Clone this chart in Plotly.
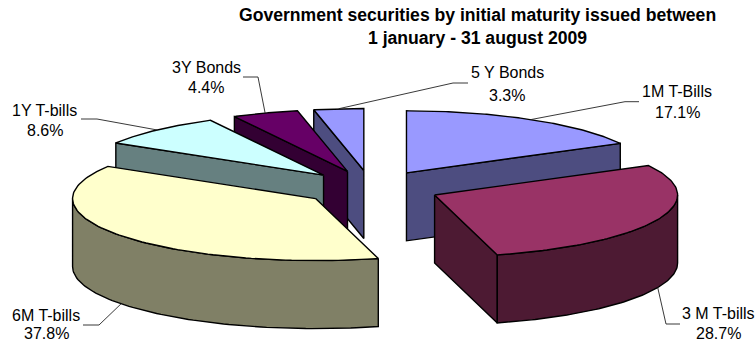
import numpy as np
import plotly.graph_objects as go

# Share of issuance by initial maturity, percent
categories = ["1M T-Bills", "3 M T-bills", "6M T-bills", "1Y T-bills", "3Y Bonds", "5 Y Bonds"]
values = [17.1, 28.7, 37.8, 8.6, 4.4, 3.3]
value_labels = ["17.1%", "28.7%", "37.8%", "8.6%", "4.4%", "3.3%"]

top_colors = ["#9999FF", "#993366", "#FFFFCC", "#CCFFFF", "#660066", "#9999FF"]
side_colors = ["#4D4D80", "#4D1A33", "#808066", "#668080", "#330033", "#4D4D80"]

# Projection of the exploded pie on the plot plane
CX, CY, RX, RY = 371.0, 188.0, 243.0, 62.0
EXPLODE, DEPTH = 0.285, 68.0
# Back-to-front paint order of the slices
PAINT_ORDER = [0, 5, 4, 3, 2, 1]

# Label centres and the elbow/end of each leader line
label_pos = [(677, 91, 112), (718, 313, 333), (46, 315, 333.5), (44.5, 110, 130), (206, 67, 87), (507, 72, 95)]
leader_elbow = [(625, 101.7, 639), (666, 324, 680), (99, 325, 83), (97, 119, 81), (258, 77, 243), (453, 83, 468)]

fracs = np.array(values) / sum(values)
ends = np.cumsum(fracs) * 2 * np.pi
starts = ends - fracs * 2 * np.pi


def rim(theta, ax, ay):
    return ax + RX * np.sin(theta), ay - RY * np.cos(theta)


def poly(fig, xs, ys, color):
    fig.add_trace(go.Scatter(
        x=list(xs) + [xs[0]], y=list(ys) + [ys[0]], mode="lines", fill="toself",
        fillcolor=color, line=dict(color="black", width=1.4), hoverinfo="skip",
    ))


fig = go.Figure()

for i in PAINT_ORDER:
    a0, a1 = starts[i], ends[i]
    mid = (a0 + a1) / 2
    ax = CX + EXPLODE * RX * np.sin(mid)
    ay = CY - EXPLODE * RY * np.cos(mid)

    # Radial cut faces that turn toward the viewer
    for ang, visible in ((a0, np.sin(a0) < -1e-6), (a1, np.sin(a1) > 1e-6)):
        if visible:
            ex, ey = rim(ang, ax, ay)
            poly(fig, [ax, ex, ex, ax], [ay, ey, ey + DEPTH, ay + DEPTH], side_colors[i])

    # Outer wall on the near half of the ellipse
    w0, w1 = max(a0, np.pi / 2), min(a1, 3 * np.pi / 2)
    if w1 > w0:
        t = np.linspace(w0, w1, 80)
        rx, ry = rim(t, ax, ay)
        poly(fig, np.r_[rx, rx[::-1]], np.r_[ry, ry[::-1] + DEPTH], side_colors[i])

    # Top surface
    t = np.linspace(a0, a1, 100)
    rx, ry = rim(t, ax, ay)
    poly(fig, np.r_[ax, rx], np.r_[ay, ry], top_colors[i])

    # Leader line from the rim to the label
    lx, ly = rim(mid, ax, ay)
    if np.cos(mid) < 0:
        ly += DEPTH
    ex, ey, tx = leader_elbow[i]
    fig.add_trace(go.Scatter(
        x=[lx, ex, tx], y=[ly, ey, ey], mode="lines",
        line=dict(color="#222222", width=0.9), hoverinfo="skip",
    ))

annotations = []


def text(x, y, s, bold=False):
    annotations.append(dict(
        x=x, y=y, xref="x", yref="y", text=f"<b>{s}</b>" if bold else s, showarrow=False,
        xanchor="center", yanchor="middle",
        font=dict(family="Liberation Sans", size=17.6 if bold else 16, color="black"),
    ))


for name, pct, (x, y1, y2) in zip(categories, value_labels, label_pos):
    text(x, y1, name)
    text(x, y2, pct)

text(477, 15, "Government securities by initial maturity issued between", bold=True)
text(477, 38, "1 january - 31 august 2009", bold=True)

fig.update_layout(
    width=756, height=343, margin=dict(l=0, r=0, t=0, b=0), showlegend=False,
    paper_bgcolor="white", plot_bgcolor="white", annotations=annotations,
    xaxis=dict(range=[0, 756], visible=False, fixedrange=True),
    yaxis=dict(range=[343, 0], visible=False, fixedrange=True),
)
fig.write_html("out.html", config={"displayModeBar": False})
